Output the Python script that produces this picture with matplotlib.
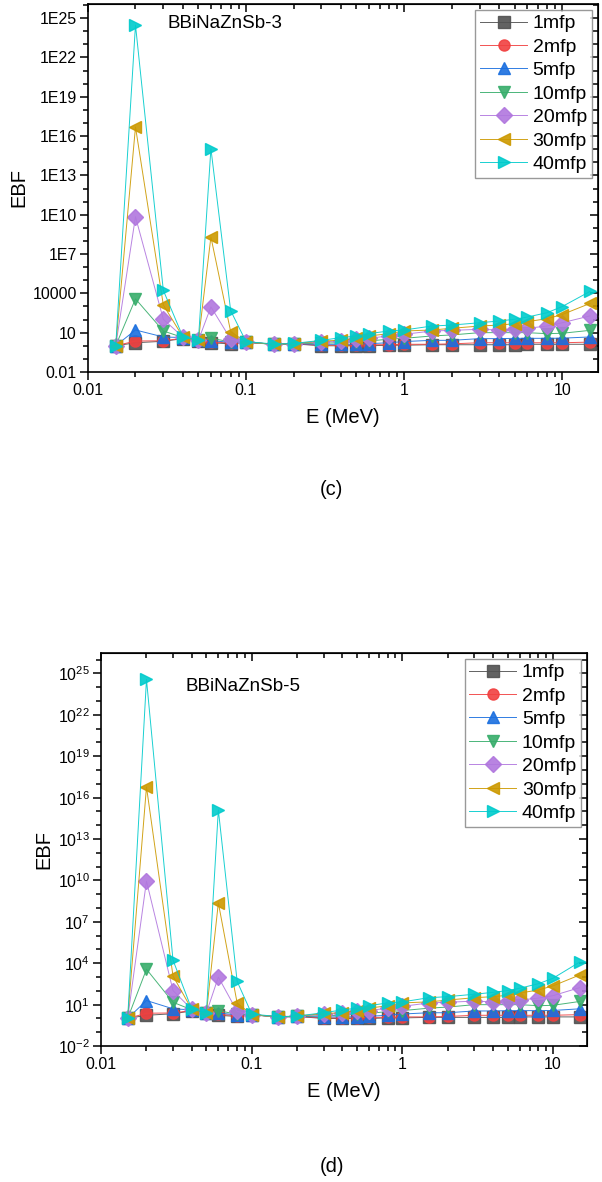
import matplotlib
matplotlib.use("Agg")
import matplotlib.pyplot as plt
import matplotlib.ticker as mticker
import numpy as np

plt.rcParams["font.family"] = ["Liberation Sans", "DejaVu Sans"]
plt.rcParams["mathtext.fontset"] = "custom"
plt.rcParams["mathtext.rm"] = "Liberation Sans"

# photon energies (MeV)
energy = [0.015, 0.02, 0.03, 0.04, 0.05, 0.06, 0.08, 0.1, 0.15, 0.2, 0.3, 0.4, 0.5,
          0.6, 0.8, 1, 1.5, 2, 3, 4, 5, 6, 8, 10, 15]

labels = ["1mfp", "2mfp", "5mfp", "10mfp", "20mfp", "30mfp", "40mfp"]
colors = ["#515151", "#F14040", "#1A6FDF", "#37AD6B", "#B177DE", "#CC9900", "#00CBCC"]
markers = ["s", "o", "^", "v", "D", "<", ">"]

# BBiNaZnSb-3
c_1mfp = [1.0, 1.7, 2.2, 3.5, 2.4, 1.7, 1.4, 1.8, 1.3, 1.4, 1.0, 1.0, 1.0, 1.0, 1.1, 1.1, 1.2, 1.2, 1.2, 1.2, 1.2, 1.3, 1.3, 1.3, 1.3]
c_2mfp = [1.0, 2.3, 2.4, 3.8, 2.5, 2.0, 1.6, 1.9, 1.3, 1.4, 1.1, 1.1, 1.1, 1.2, 1.2, 1.3, 1.3, 1.4, 1.7, 1.7, 1.7, 1.7, 1.7, 1.7, 1.9]
c_5mfp = [1.0, 16, 4.7, 4.2, 2.6, 2.5, 1.8, 1.9, 1.3, 1.4, 1.3, 1.3, 1.3, 1.45, 1.7, 2.1, 2.6, 2.6, 3.5, 3.5, 3.7, 3.7, 3.7, 3.8, 4.7]
c_10mfp = [1.0, 3800, 13.5, 4.2, 2.6, 3.7, 2.0, 1.9, 1.3, 1.4, 1.6, 1.7, 2.1, 2.3, 3.2, 3.7, 5.6, 6.7, 10, 10, 10, 10, 8.4, 9, 15]
c_20mfp = [1.0, 7e9, 105, 4.5, 2.6, 930, 3.2, 1.9, 1.3, 1.45, 2.0, 2.3, 3.2, 3.75, 5.6, 7.5, 13.4, 15, 18, 16, 20, 21.5, 32, 57, 190]
c_30mfp = [1.0, 5e16, 1300, 4.5, 2.6, 2e8, 12, 1.9, 1.3, 1.45, 2.3, 2.6, 3.75, 5.6, 8.4, 13.4, 16, 21.5, 32, 38, 48, 69, 116, 240, 1700]
c_40mfp = [1.0, 3e24, 17000, 4.5, 2.7, 1.1e15, 480, 2.1, 1.35, 1.5, 2.6, 4.2, 5.6, 8.5, 13.4, 16, 32, 38, 57, 78, 105, 155, 330, 980, 14000]

# BBiNaZnSb-5
d_1mfp = [1.0, 1.7, 2.2, 3.5, 2.4, 1.7, 1.4, 1.8, 1.3, 1.4, 1.0, 1.0, 1.0, 1.0, 1.1, 1.1, 1.2, 1.2, 1.2, 1.2, 1.2, 1.3, 1.3, 1.3, 1.3]
d_2mfp = [1.0, 2.4, 2.5, 3.8, 2.5, 2.0, 1.6, 1.9, 1.3, 1.4, 1.1, 1.1, 1.1, 1.2, 1.2, 1.3, 1.3, 1.4, 1.7, 1.7, 1.7, 1.7, 1.7, 1.7, 1.9]
d_5mfp = [1.0, 20, 5.0, 4.2, 2.6, 2.5, 1.8, 1.9, 1.3, 1.4, 1.3, 1.3, 1.3, 1.45, 1.7, 2.1, 2.6, 2.6, 3.5, 3.5, 3.7, 3.7, 3.7, 3.8, 5.0]
d_10mfp = [1.0, 3700, 15, 4.2, 2.6, 3.7, 2.0, 1.9, 1.3, 1.4, 1.6, 1.7, 2.1, 2.3, 3.2, 3.7, 5.6, 6.7, 10, 10, 10, 10, 8.4, 9, 17]
d_20mfp = [1.0, 9e9, 105, 4.5, 2.6, 1000, 3.2, 1.9, 1.3, 1.45, 2.0, 2.3, 3.2, 3.75, 5.6, 7.5, 13.4, 15, 18, 16, 20, 21.5, 30, 45, 170]
d_30mfp = [1.0, 6e16, 1200, 4.5, 2.6, 2.4e8, 13, 1.9, 1.3, 1.45, 2.3, 2.6, 3.75, 5.6, 8.4, 13.4, 16, 21.5, 32, 38, 48, 69, 116, 230, 1400]
d_40mfp = [1.0, 3.7e24, 17000, 4.5, 2.7, 1.3e15, 480, 2.1, 1.35, 1.5, 2.6, 4.2, 5.6, 8.5, 13.4, 16, 32, 38, 57, 78, 105, 155, 330, 820, 12000]

series_c = [c_1mfp, c_2mfp, c_5mfp, c_10mfp, c_20mfp, c_30mfp, c_40mfp]
series_d = [d_1mfp, d_2mfp, d_5mfp, d_10mfp, d_20mfp, d_30mfp, d_40mfp]

ymajor = [10.0 ** k for k in range(-2, 27, 3)]
yminor = [10.0 ** k for k in range(-2, 27) if (k + 2) % 3]
xmajor = [0.01, 0.1, 1, 10]


def fmt_e(v, pos):
   n = int(round(np.log10(v)))
   if n >= 7:
      return "1E%d" % n
   if n >= 0:
      return "%d" % (10 ** n)
   return ("%.10f" % v).rstrip("0")


def fmt_pow(v, pos):
   n = int(round(np.log10(v)))
   return r"$\mathregular{10^{%d}}$" % n


def set_ticks(xa, ya):
   xa.set_major_locator(mticker.FixedLocator(xmajor))
   xa.set_minor_locator(mticker.LogLocator(base=10, subs=np.arange(2, 10)))
   xa.set_minor_formatter(mticker.NullFormatter())
   ya.set_major_locator(mticker.FixedLocator(ymajor))
   ya.set_minor_locator(mticker.FixedLocator(yminor))
   ya.set_minor_formatter(mticker.NullFormatter())


def draw(ax, series, title, title_xy, yfmt, ytop):
   for vals, lab, col, mk in zip(series, labels, colors, markers):
      ax.plot(energy, vals, color=col, lw=0.7, alpha=0.9, marker=mk, ms=8,
              mec=col, mfc=col, label=lab)
   ax.set_xscale("log")
   ax.set_yscale("log")
   ax.set_xlim(0.01, 16.8)
   ax.set_ylim(0.01, ytop)
   set_ticks(ax.xaxis, ax.yaxis)
   ax.yaxis.set_major_formatter(mticker.FuncFormatter(yfmt))
   ax.xaxis.set_major_formatter(mticker.FixedFormatter(["0.01", "0.1", "1", "10"]))
   ax.tick_params(which="both", direction="out", width=1.1, labelsize=11.5, pad=2)
   ax.tick_params(which="major", length=6)
   ax.tick_params(which="minor", length=3.5)
   for s in ax.spines.values():
      s.set_linewidth(1.2)
   # mirrored ticks on top/right pointing inward
   sec_x = ax.secondary_xaxis("top")
   sec_x.set_xscale("log")
   sec_y = ax.secondary_yaxis("right")
   set_ticks(sec_x.xaxis, sec_y.yaxis)
   sec_x.xaxis.set_major_formatter(mticker.NullFormatter())
   sec_y.yaxis.set_major_formatter(mticker.NullFormatter())
   for sec in (sec_x, sec_y):
      sec.tick_params(which="both", direction="in", width=1.1)
      sec.tick_params(which="major", length=6)
      sec.tick_params(which="minor", length=3.5)
   ax.set_xlabel("E (MeV)", fontsize=14.5, labelpad=7)
   ax.set_ylabel("EBF", fontsize=14.5, labelpad=3)
   ax.text(title_xy[0], title_xy[1], title, transform=ax.transAxes, fontsize=13.5, va="center")
   leg = ax.legend(loc="upper right", fontsize=14, frameon=True, fancybox=False,
                   edgecolor="#808080", handlelength=2.4, labelspacing=0.3,
                   borderpad=0.25, handletextpad=0.3, borderaxespad=0.3)
   leg.get_frame().set_linewidth(1.0)


fig = plt.figure(figsize=(6.02, 11.82), dpi=100)
ax1 = fig.add_axes([0.146, 0.6853, 0.847, 0.3113])
ax2 = fig.add_axes([0.168, 0.115, 0.807, 0.3325])

draw(ax1, series_c, "BBiNaZnSb-3", (0.157, 0.948), fmt_e, 1.2e26)
draw(ax2, series_d, "BBiNaZnSb-5", (0.173, 0.916), fmt_pow, 3e26)

fig.text(331 / 602, 1 - 490 / 1182, "(c)", fontsize=14.5, ha="center", va="center")
fig.text(332 / 602, 1 - 1166 / 1182, "(d)", fontsize=14.5, ha="center", va="center")

fig.savefig("out.png", dpi=100)
